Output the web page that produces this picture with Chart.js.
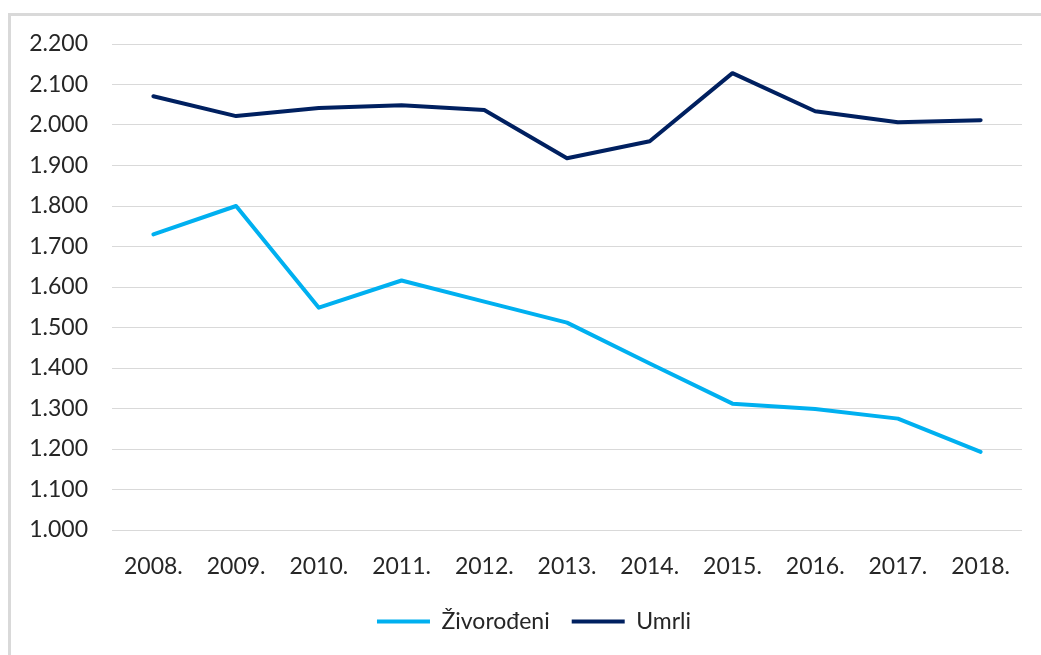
<!DOCTYPE html>
<html>
<head>
<meta charset="utf-8">
<script src="https://cdn.jsdelivr.net/npm/chart.js@4"></script>
<style>
    html, body { margin: 0; padding: 0; background: #fff; }
    #wrap { position: relative; width: 1041px; height: 655px; overflow: hidden; }
    #frame { position: absolute; left: 8px; top: 13px; width: 1100px; height: 700px;
             border-top: 3px solid #d9d9d9; border-left: 3px solid #d9d9d9; }
    #chart { position: absolute; left: 0; top: 0; }
</style>
</head>
<body>
<div id="wrap">
    <div id="frame"></div>
    <canvas id="chart" width="1041" height="655"></canvas>
</div>
<script>
    // Data
    const years = ['2008.', '2009.', '2010.', '2011.', '2012.', '2013.', '2014.', '2015.', '2016.', '2017.', '2018.'];
    const zivorodeni = [1730, 1800, 1549, 1616, 1564, 1512, 1411, 1312, 1299, 1275, 1193];
    const umrli = [2071, 2022, 2042, 2049, 2037, 1918, 1960, 2128, 2034, 2007, 2012];

    const fontFamily = 'Lato, "Liberation Sans", sans-serif';
    const fontSize = 23;

    // 2200 -> "2.200"
    function formatThousands(v) {
        return String(v).replace(/\B(?=(\d{3})+(?!\d))/g, '.');
    }

    // legend in the original sits a bit right of the centre
    const shiftLegend = {
        id: 'shiftLegend',
        afterLayout(chart) {
            chart.legend.left += 13;
            chart.legend.right += 13;
        }
    };

    const ctx = document.getElementById('chart').getContext('2d');
    new Chart(ctx, {
        type: 'line',
        data: {
            labels: years,
            datasets: [
                {
                    label: 'Živorođeni',
                    data: zivorodeni,
                    borderColor: '#00b0f0',
                    backgroundColor: '#00b0f0',
                    borderWidth: 4,
                    pointRadius: 0,
                    tension: 0,
                    borderCapStyle: 'round',
                    borderJoinStyle: 'round'
                },
                {
                    label: 'Umrli',
                    data: umrli,
                    borderColor: '#002060',
                    backgroundColor: '#002060',
                    borderWidth: 4,
                    pointRadius: 0,
                    tension: 0,
                    borderCapStyle: 'round',
                    borderJoinStyle: 'round'
                }
            ]
        },
        options: {
            responsive: false,
            animation: false,
            layout: {
                padding: { left: 20, right: 19, top: 44, bottom: 12 }
            },
            plugins: {
                legend: {
                    position: 'bottom',
                    labels: {
                        usePointStyle: true,
                        pointStyle: 'line',
                        pointStyleWidth: 53,
                        color: '#262626',
                        padding: 22,
                        font: { family: fontFamily, size: fontSize }
                    }
                },
                tooltip: { enabled: false }
            },
            scales: {
                y: {
                    min: 1000,
                    max: 2200,
                    afterFit: scale => { scale.width = 92; },
                    ticks: {
                        stepSize: 100,
                        color: '#262626',
                        padding: 24,
                        font: { family: fontFamily, size: fontSize },
                        callback: value => formatThousands(value)
                    },
                    grid: { color: '#d9d9d9', lineWidth: 1, drawTicks: false },
                    border: { display: false }
                },
                x: {
                    offset: true,
                    afterFit: scale => { scale.height = 58; },
                    ticks: {
                        color: '#262626',
                        padding: 23,
                        maxRotation: 0,
                        font: { family: fontFamily, size: fontSize }
                    },
                    grid: { display: false, drawTicks: false, offset: true },
                    border: { display: false }
                }
            }
        },
        plugins: [shiftLegend]
    });
</script>
</body>
</html>
